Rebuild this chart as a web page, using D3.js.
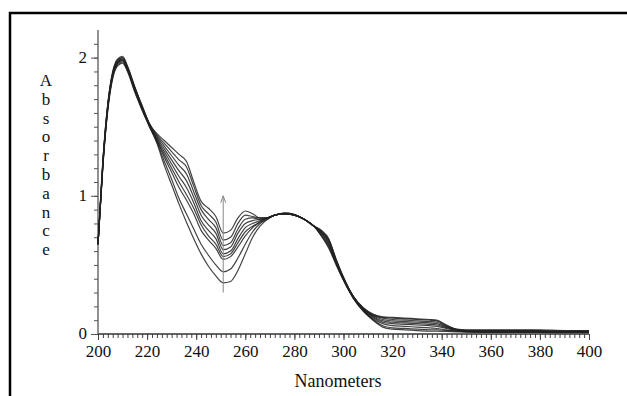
<!DOCTYPE html>
<html>
<head>
<meta charset="utf-8">
<script src="https://cdn.jsdelivr.net/npm/d3@7"></script>
<style>
  body { margin: 0; background: #fff; }
  svg { display: block; }
  svg text { font-family: "Liberation Serif", "Times New Roman", serif; }
</style>
</head>
<body>
<svg id="chart" width="627" height="396"></svg>
<script>
// wavelength grid (nm) shared by every spectrum
const wavelengths = [200,202,204,206,208,210,212,215,218, 221,224,227,230,233,236,239,242,245,248,251,254,257,260,263,266,269, 272,276,280,284,288, 291,294,297,300, 304,308,312,316,320, 325,330,335,338,342,346,350, 360,370,380,390,400];

// absorbance spectra, lowest (first) to highest (last) in the 250 nm dip
const spectrum1 = [0.65,1.22,1.62,1.85,1.94,1.96,1.90,1.75,1.62, 1.50,1.38,1.22,1.08,0.94,0.81,0.69,0.58,0.49,0.42,0.37,0.38,0.46,0.58,0.70,0.78,0.83, 0.86,0.87,0.86,0.83,0.78, 0.71,0.62,0.50,0.39, 0.26,0.165,0.10,0.05,0.035, 0.03,0.025,0.02,0.02,0.018,0.016,0.014, 0.012,0.012,0.011,0.01,0.01];
const spectrum2 = [0.65,1.22,1.63,1.86,1.95,1.97,1.91,1.76,1.62, 1.50,1.39,1.25,1.12,0.98,0.87,0.76,0.65,0.57,0.50,0.45,0.47,0.55,0.65,0.74,0.80,0.83, 0.86,0.87,0.86,0.83,0.78, 0.71,0.63,0.51,0.39, 0.26,0.17,0.105,0.06,0.045, 0.04,0.035,0.03,0.03,0.025,0.02,0.016, 0.014,0.014,0.013,0.012,0.012];
const spectrum3 = [0.65,1.23,1.64,1.87,1.96,1.98,1.91,1.76,1.63, 1.50,1.40,1.28,1.17,1.06,0.97,0.87,0.75,0.68,0.62,0.54,0.56,0.63,0.71,0.77,0.81,0.84, 0.86,0.87,0.86,0.83,0.78, 0.72,0.64,0.51,0.39, 0.26,0.17,0.11,0.075,0.06, 0.055,0.05,0.045,0.04,0.03,0.022,0.018, 0.016,0.016,0.015,0.013,0.013];
const spectrum4 = [0.65,1.23,1.64,1.87,1.96,1.98,1.92,1.77,1.63, 1.51,1.40,1.30,1.20,1.10,1.01,0.91,0.79,0.71,0.65,0.56,0.58,0.66,0.74,0.78,0.81,0.84, 0.86,0.87,0.86,0.83,0.78, 0.73,0.65,0.52,0.40, 0.27,0.175,0.12,0.085,0.075, 0.07,0.065,0.06,0.055,0.04,0.026,0.02, 0.018,0.018,0.017,0.015,0.015];
const spectrum5 = [0.65,1.24,1.65,1.88,1.97,1.99,1.92,1.77,1.64, 1.51,1.41,1.32,1.23,1.14,1.06,0.95,0.82,0.75,0.69,0.58,0.60,0.69,0.77,0.80,0.82,0.84, 0.86,0.87,0.86,0.83,0.78, 0.73,0.66,0.52,0.40, 0.27,0.18,0.125,0.095,0.085, 0.08,0.075,0.07,0.065,0.045,0.028,0.021, 0.02,0.02,0.019,0.016,0.016];
const spectrum6 = [0.65,1.24,1.65,1.88,1.97,1.99,1.93,1.78,1.64, 1.51,1.42,1.34,1.26,1.18,1.11,0.99,0.86,0.79,0.73,0.61,0.63,0.73,0.80,0.82,0.83,0.84, 0.86,0.87,0.865,0.83,0.78, 0.74,0.67,0.53,0.40, 0.27,0.18,0.13,0.105,0.095, 0.09,0.085,0.08,0.075,0.05,0.03,0.023, 0.022,0.022,0.021,0.018,0.018];
const spectrum7 = [0.65,1.25,1.66,1.89,1.98,2.00,1.93,1.78,1.64, 1.52,1.43,1.36,1.29,1.22,1.16,1.03,0.90,0.83,0.77,0.64,0.66,0.76,0.83,0.84,0.83,0.84, 0.86,0.875,0.865,0.83,0.78, 0.74,0.68,0.53,0.40, 0.27,0.185,0.135,0.115,0.105, 0.10,0.095,0.09,0.085,0.055,0.032,0.025, 0.024,0.024,0.023,0.02,0.02];
const spectrum8 = [0.65,1.25,1.66,1.89,1.98,2.00,1.93,1.78,1.65, 1.52,1.44,1.38,1.32,1.26,1.21,1.07,0.93,0.87,0.81,0.68,0.70,0.80,0.86,0.85,0.84,0.84, 0.86,0.875,0.865,0.83,0.78, 0.75,0.68,0.54,0.41, 0.27,0.19,0.14,0.12,0.115, 0.11,0.105,0.10,0.095,0.06,0.033,0.027, 0.026,0.026,0.025,0.022,0.022];
const spectrum9 = [0.65,1.26,1.67,1.90,1.99,2.01,1.94,1.79,1.65, 1.52,1.45,1.40,1.35,1.30,1.25,1.10,0.96,0.91,0.85,0.73,0.75,0.84,0.89,0.87,0.84,0.84, 0.86,0.875,0.865,0.83,0.78, 0.75,0.69,0.54,0.41, 0.27,0.19,0.145,0.125,0.12, 0.115,0.11,0.105,0.10,0.065,0.035,0.03, 0.03,0.03,0.03,0.025,0.025];
const spectra = [spectrum1, spectrum2, spectrum3, spectrum4, spectrum5, spectrum6, spectrum7, spectrum8, spectrum9];

const xTicks = [200,220,240,260,280,300,320,340,360,380,400];
const yTicks = [0,1,2];
const arrowAt = 251;            // nm
const arrowRange = [0.30, 1.0]; // absorbance, tail -> head

const svg = d3.select('#chart');
const serif = '"Liberation Serif", "Times New Roman", serif';

// frame (right and bottom edges fall outside the picture)
svg.append('rect')
  .attr('x', 10).attr('y', 13)
  .attr('width', 640).attr('height', 400)
  .attr('fill', 'none')
  .attr('stroke', '#000')
  .attr('stroke-width', 2.5);

const x = d3.scaleLinear().domain([200, 400]).range([98, 589]);
const y = d3.scaleLinear().domain([0, 2.2]).range([334, 30]);

// x axis: minor ticks every 2 nm
const xAxis = svg.append('g').attr('transform', 'translate(0,334)');
xAxis.append('g')
  .call(d3.axisBottom(x).tickValues(d3.range(200, 401, 2)).tickSize(4).tickFormat(''))
  .call(g => g.select('.domain').remove());
xAxis.append('g')
  .call(d3.axisBottom(x).tickValues(xTicks).tickSize(6).tickPadding(5).tickFormat(d3.format('d')))
  .attr('font-family', serif)
  .attr('font-size', 17)
  .call(g => g.select('.domain').remove())
  .call(g => g.selectAll('text').attr('fill', '#111'));
xAxis.append('line').attr('x1', x(200)).attr('x2', x(400)).attr('stroke', '#333').attr('stroke-width', 1.3);
xAxis.selectAll('.tick line').attr('stroke', '#444');

// y axis: minor ticks every 0.1
const yAxis = svg.append('g').attr('transform', 'translate(98,0)');
yAxis.append('g')
  .call(d3.axisLeft(y).tickValues(d3.range(0, 22).map(d => d / 10)).tickSize(4).tickFormat(''))
  .call(g => g.select('.domain').remove());
yAxis.append('g')
  .call(d3.axisLeft(y).tickValues(yTicks).tickSize(7).tickPadding(4).tickFormat(d3.format('d')))
  .attr('font-family', serif)
  .attr('font-size', 17)
  .call(g => g.select('.domain').remove())
  .call(g => g.selectAll('text').attr('fill', '#111').attr('dy', '0.28em'));
yAxis.append('line').attr('y1', y(0)).attr('y2', y(2.2)).attr('stroke', '#555').attr('stroke-width', 1.3);
yAxis.selectAll('.tick line').attr('stroke', '#555');

// spectra
const line = d3.line()
  .x((d, i) => x(wavelengths[i]))
  .y(d => y(d))
  .curve(d3.curveMonotoneX);

svg.append('g').selectAll('path')
  .data(spectra)
  .enter().append('path')
  .attr('d', line)
  .attr('fill', 'none')
  .attr('stroke', '#222')
  .attr('stroke-width', 1.2)
  .attr('stroke-opacity', 0.85);

// arrow
svg.append('line')
  .attr('x1', x(arrowAt)).attr('x2', x(arrowAt))
  .attr('y1', y(arrowRange[0])).attr('y2', y(arrowRange[1]))
  .attr('stroke', '#888')
  .attr('stroke-width', 1);
svg.append('path')
  .attr('d', `M${x(arrowAt) - 2.5},${y(arrowRange[1]) + 7} L${x(arrowAt)},${y(arrowRange[1])} L${x(arrowAt) + 2.5},${y(arrowRange[1]) + 7}`)
  .attr('fill', 'none')
  .attr('stroke', '#888')
  .attr('stroke-width', 1);

// axis titles
svg.append('text')
  .attr('x', 338).attr('y', 387)
  .attr('text-anchor', 'middle')
  .attr('font-size', 18)
  .attr('fill', '#111')
  .text('Nanometers');

const yLabel = 'Absorbance'.split('');
svg.append('g').selectAll('text')
  .data(yLabel)
  .enter().append('text')
  .attr('x', 46)
  .attr('y', (d, i) => 86 + i * 18.8)
  .attr('text-anchor', 'middle')
  .attr('font-size', 17)
  .attr('fill', '#111')
  .text(d => d);
</script>
</body>
</html>
